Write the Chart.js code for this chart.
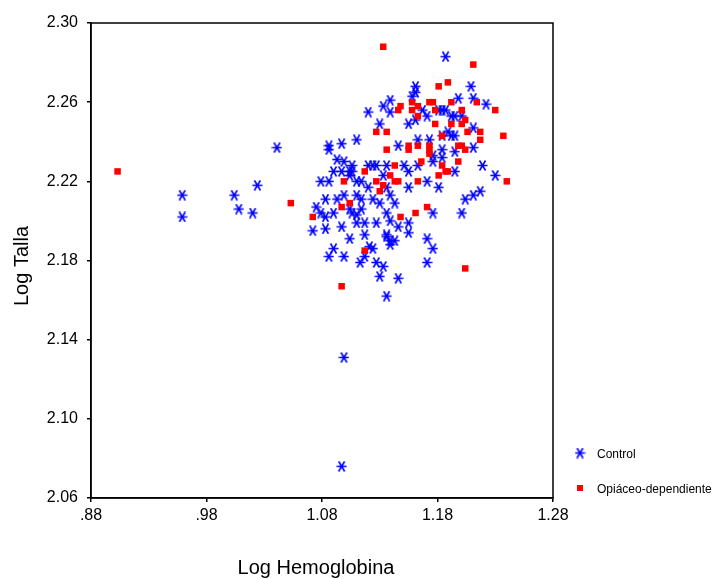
<!DOCTYPE html>
<html>
<head>
<meta charset="utf-8">
<script src="https://cdn.jsdelivr.net/npm/chart.js@4"></script>
<style>
  body { margin: 0; background: #fff; }
  #wrap { width: 718px; height: 579px; }
</style>
</head>
<body>
<div id="wrap"><canvas id="scatterChart" width="718" height="579"></canvas></div>
<script>
// Log Hemoglobina (x) vs Log Talla (y)
const controlX = [1.187,1.209,1.161,1.161,1.158,1.198,1.211,1.222,1.139,1.133,
    1.139,1.120,1.184,1.187,1.181,1.171,1.192,1.195,1.201,1.167,
    1.130,1.155,1.161,1.211,1.189,1.192,1.195,1.184,1.110,1.086,
    1.097,1.086,1.146,1.163,1.173,1.041,1.184,1.195,1.211,1.184,
    1.093,1.099,1.176,1.106,1.120,1.124,1.127,1.136,1.151,1.163,
    1.090,1.097,1.104,1.106,1.155,1.195,1.176,1.104,1.133,1.219,
    1.230,1.079,1.086,1.110,1.114,1.120,1.136,1.155,1.171,1.181,
    1.024,0.959,1.004,1.083,1.093,1.099,1.110,1.114,1.124,1.130,
    1.139,1.143,1.204,1.211,1.217,1.008,1.020,0.959,1.075,1.079,
    1.083,1.090,1.104,1.106,1.110,1.114,1.136,1.176,1.201,1.072,
    1.083,1.097,1.110,1.117,1.127,1.139,1.155,1.146,1.117,1.136,
    1.104,1.136,1.139,1.143,1.155,1.171,1.090,1.121,1.124,1.139,
    1.176,1.086,1.099,1.117,1.113,1.127,1.171,1.133,1.130,1.146,
    1.136,1.099,1.097];
const controlY = [2.283,2.268,2.268,2.265,2.263,2.262,2.262,2.259,2.261,2.258,
    2.255,2.255,2.256,2.256,2.256,2.253,2.253,2.253,2.253,2.256,
    2.249,2.249,2.251,2.247,2.245,2.243,2.243,2.243,2.241,2.238,
    2.239,2.236,2.238,2.241,2.241,2.237,2.236,2.235,2.237,2.232,
    2.231,2.230,2.230,2.228,2.228,2.228,2.228,2.228,2.228,2.228,
    2.225,2.225,2.225,2.225,2.225,2.225,2.233,2.223,2.223,2.228,
    2.223,2.220,2.220,2.220,2.220,2.217,2.217,2.217,2.220,2.217,
    2.218,2.213,2.213,2.211,2.211,2.213,2.213,2.211,2.211,2.209,
    2.213,2.209,2.211,2.213,2.215,2.206,2.204,2.202,2.207,2.204,
    2.202,2.204,2.206,2.204,2.203,2.206,2.204,2.204,2.204,2.195,
    2.196,2.197,2.199,2.199,2.199,2.200,2.199,2.197,2.193,2.193,
    2.191,2.192,2.190,2.190,2.194,2.191,2.186,2.187,2.186,2.188,
    2.186,2.182,2.182,2.182,2.179,2.179,2.179,2.177,2.172,2.171,
    2.162,2.131,2.076];

const opiX = [1.133,1.211,1.189,1.181,1.158,1.173,1.176,1.192,1.214,1.148,
    1.146,1.158,1.163,1.178,1.201,1.230,1.163,1.204,1.178,1.192,
    1.201,1.127,1.136,1.206,1.217,1.184,1.237,1.217,1.155,1.163,
    1.173,1.198,1.201,1.136,1.155,1.173,1.204,1.173,1.198,1.166,
    1.143,1.184,1.117,1.187,1.189,0.903,1.139,1.181,1.099,1.127,
    1.143,1.146,1.163,1.240,1.133,1.130,1.053,1.104,1.097,1.171,
    1.161,1.072,1.148,1.117,1.204,1.097];
const opiY = [2.288,2.279,2.270,2.268,2.260,2.260,2.260,2.260,2.260,2.258,
    2.256,2.256,2.258,2.256,2.256,2.256,2.253,2.251,2.249,2.249,
    2.249,2.245,2.245,2.245,2.245,2.243,2.243,2.241,2.238,2.238,
    2.238,2.238,2.238,2.236,2.236,2.236,2.236,2.234,2.230,2.230,
    2.228,2.228,2.225,2.225,2.225,2.225,2.223,2.223,2.220,2.220,
    2.220,2.220,2.220,2.220,2.218,2.215,2.209,2.209,2.207,2.207,
    2.204,2.202,2.202,2.185,2.176,2.167];

const xTicks = [0.88, 0.98, 1.08, 1.18, 1.28];
const yTicks = [2.06, 2.10, 2.14, 2.18, 2.22, 2.26, 2.30];
const seriesNames = ['Control', 'Opiáceo-dependiente'];
const xTitle = 'Log Hemoglobina';
const yTitle = 'Log Talla';

const BLUE = '#0000ff';
const RED = '#ff0000';
const FONT = "'Liberation Sans', Arial, sans-serif";

// SPSS style asterisk: horizontal bar plus two diagonals
function makeAsterisk() {
    const c = document.createElement('canvas');
    c.width = 11; c.height = 11;
    const g = c.getContext('2d');
    g.strokeStyle = BLUE;
    g.lineWidth = 1.6;
    g.beginPath();
    g.moveTo(0.5, 5.5); g.lineTo(10.5, 5.5);
    g.moveTo(2.5, 0.5); g.lineTo(8.5, 10.5);
    g.moveTo(8.5, 0.5); g.lineTo(2.5, 10.5);
    g.stroke();
    return c;
}
const asterisk = makeAsterisk();

const toPoints = (xs, ys) => xs.map((x, i) => ({ x: x, y: ys[i] }));

const frameAndText = {
    id: 'frameAndText',
    afterDraw(chart) {
        const { ctx, chartArea: a } = chart;
        ctx.save();
        ctx.strokeStyle = '#000';
        ctx.lineWidth = 1.5;
        ctx.strokeRect(a.left, a.top, a.right - a.left, a.bottom - a.top);

        ctx.fillStyle = '#000';
        ctx.font = '20px ' + FONT;
        ctx.textAlign = 'center';
        ctx.textBaseline = 'middle';
        ctx.fillText(xTitle, 316, 568);
        ctx.save();
        ctx.translate(22, 266);
        ctx.rotate(-Math.PI / 2);
        ctx.fillText(yTitle, 0, 0);
        ctx.restore();

        // legend
        ctx.drawImage(asterisk, 580 - 5.5, 453 - 5.5);
        ctx.fillStyle = RED;
        ctx.fillRect(577, 485, 6, 6);
        ctx.fillStyle = '#000';
        ctx.font = '12px ' + FONT;
        ctx.textAlign = 'left';
        ctx.fillText(seriesNames[0], 597, 455);
        ctx.fillText(seriesNames[1], 597, 490);
        ctx.restore();
    }
};

function renderScatter() {
    const ctx = document.getElementById('scatterChart').getContext('2d');
    new Chart(ctx, {
        type: 'scatter',
        data: {
            datasets: [{
                label: seriesNames[0],
                data: toPoints(controlX, controlY),
                pointStyle: asterisk,
                borderColor: BLUE,
                backgroundColor: BLUE,
                order: 2
            }, {
                label: seriesNames[1],
                data: toPoints(opiX, opiY),
                pointStyle: 'rect',
                pointRadius: 4.6,
                borderWidth: 0,
                backgroundColor: RED,
                borderColor: RED,
                order: 1
            }]
        },
        options: {
            responsive: false,
            animation: false,
            layout: { padding: { left: 0, top: 23, right: 165, bottom: 0 } },
            plugins: { legend: { display: false }, tooltip: { enabled: false } },
            scales: {
                x: {
                    type: 'linear',
                    min: 0.88, max: 1.28,
                    afterBuildTicks: (s) => { s.ticks = xTicks.map(v => ({ value: v })); },
                    afterFit: (s) => { s.height = 81; },
                    grid: { drawOnChartArea: false, drawTicks: true, tickLength: 4, color: '#000', lineWidth: 1.5 },
                    border: { color: '#000', width: 1.5 },
                    ticks: {
                        color: '#000', padding: 4, maxRotation: 0,
                        font: { family: FONT, size: 16 },
                        callback: (v) => v.toFixed(2).replace(/^0/, '')
                    }
                },
                y: {
                    type: 'linear',
                    min: 2.06, max: 2.30,
                    afterBuildTicks: (s) => { s.ticks = yTicks.map(v => ({ value: v })); },
                    afterFit: (s) => { s.width = 91; },
                    grid: { drawOnChartArea: false, drawTicks: true, tickLength: 4, color: '#000', lineWidth: 1.5 },
                    border: { color: '#000', width: 1.5 },
                    ticks: {
                        color: '#000', padding: 9,
                        font: { family: FONT, size: 16 },
                        callback: (v) => v.toFixed(2)
                    }
                }
            }
        },
        plugins: [frameAndText]
    });
}

renderScatter();
</script>
</body>
</html>
